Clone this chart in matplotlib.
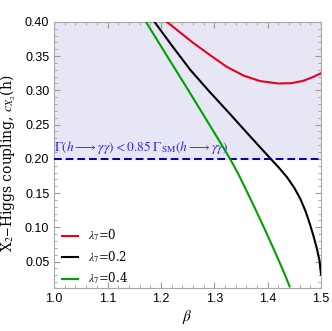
import numpy as np
import matplotlib
matplotlib.use("Agg")
import matplotlib.pyplot as plt
from matplotlib.ticker import MultipleLocator

plt.rcParams['mathtext.fontset'] = 'stix'
plt.rcParams['font.family'] = 'Liberation Sans'

# curves
beta_l0 = [1.211, 1.236, 1.261, 1.292, 1.323, 1.355, 1.386, 1.420, 1.445, 1.467, 1.485, 1.500]
c_l0 = [0.400, 0.3845, 0.369, 0.3515, 0.3345, 0.3215, 0.3135, 0.310, 0.3105, 0.314, 0.3195, 0.325]

beta_l02 = [1.188, 1.220, 1.255, 1.290, 1.330, 1.367, 1.4045, 1.420, 1.436, 1.450,
            1.461, 1.471, 1.479, 1.486, 1.492, 1.497, 1.500]
c_l02 = [0.400, 0.366, 0.330, 0.299, 0.265, 0.233, 0.201, 0.188, 0.1735, 0.1575,
         0.142, 0.1235, 0.105, 0.087, 0.0695, 0.052, 0.031]

beta_l04 = [1.172, 1.210, 1.250, 1.290, 1.310, 1.3296, 1.345, 1.361, 1.377, 1.392,
            1.406, 1.420, 1.430, 1.441]
c_l04 = [0.400, 0.352, 0.302, 0.251, 0.2255, 0.200, 0.178, 0.1525, 0.1265, 0.1015,
         0.0775, 0.053, 0.035, 0.014]

labels = [r'$\lambda_7$=0', r'$\lambda_7$=0.2', r'$\lambda_7$=0.4']
colors = ['#e8001c', 'black', '#00a000']
limit = 0.20

fig = plt.figure(figsize=(3.32, 3.31), dpi=100)
ax = fig.add_axes([0.163, 0.130, 0.804, 0.804])

ax.axhspan(limit, 0.40, color='#e6e6f5', zorder=0)
ax.axhline(limit, color='#0000aa', ls=(0, (4, 2)), lw=1.4, zorder=3)
ax.text(1.0, limit + 0.004, r'$\Gamma(h\longrightarrow\gamma\gamma) < 0.85\ \Gamma_{\rm SM}(h\longrightarrow\gamma\gamma)$',
        color='#2828ff', fontsize=9.6, va='bottom', ha='left')

for bx, cy, lab, col in zip([beta_l0, beta_l02, beta_l04], [c_l0, c_l02, c_l04], labels, colors):
    ax.plot(bx, cy, color=col, lw=1.5, label=lab, zorder=4, solid_joinstyle='round')

ax.set_xlim(1.0, 1.5)
ax.set_ylim(0.0115, 0.40)
ax.xaxis.set_minor_locator(MultipleLocator(0.02))
ax.yaxis.set_minor_locator(MultipleLocator(0.01))
ax.tick_params(which='both', direction='in', top=True, right=True, color='#999999', labelsize=9)
ax.tick_params(which='major', length=4)
ax.tick_params(which='minor', length=2)
ax.set_xticks([1.0, 1.1, 1.2, 1.3, 1.4, 1.5])
ax.set_xticklabels(['1.0', '1.1', '1.2', '1.3', '1.4', '1.5'])
ax.set_yticks([0.05, 0.10, 0.15, 0.20, 0.25, 0.30, 0.35, 0.40])
ax.set_yticklabels(['0.05', '0.10', '0.15', '0.20', '0.25', '0.30', '0.35', '0.40'])
for s in ax.spines.values():
    s.set_color('#aaaaaa')

ax.set_xlabel(r'$\beta$', fontsize=11, labelpad=2)
ax.set_ylabel(r'X$_2$$-$Higgs coupling, $c_{X_2}$(h)', fontsize=10, family='serif')
ax.yaxis.set_label_coords(-0.135, 0.47)

ax.legend(loc='lower left', bbox_to_anchor=(0.022, 0.0), frameon=False,
          prop={'family': 'serif', 'size': 8.5},
          handlelength=1.4, labelspacing=0.5, borderaxespad=0.0, borderpad=0.15)

fig.savefig('out.png', dpi=100)
